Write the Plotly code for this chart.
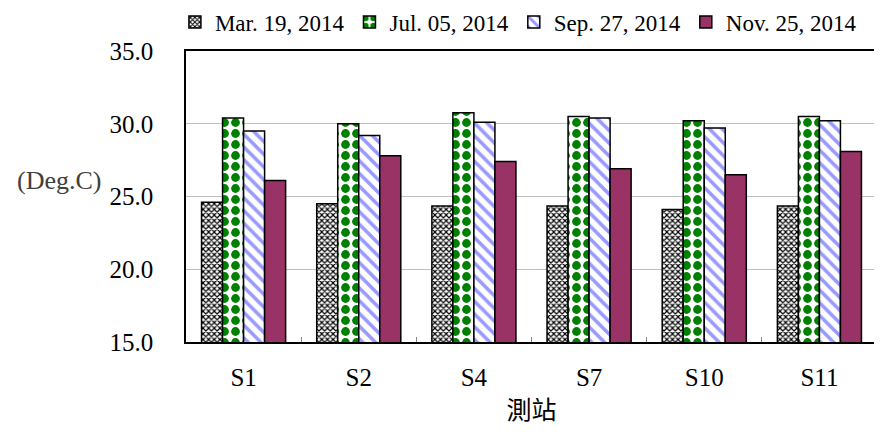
import plotly.graph_objects as go

stations = ["S1", "S2", "S4", "S7", "S10", "S11"]
mar_19 = [24.6, 24.5, 24.35, 24.35, 24.1, 24.35]
jul_05 = [30.4, 30.0, 30.75, 30.5, 30.2, 30.5]
sep_27 = [29.5, 29.2, 30.1, 30.4, 29.7, 30.2]
nov_25 = [26.1, 27.8, 27.4, 26.9, 26.5, 28.1]
series_names = ["Mar. 19, 2014", "Jul. 05, 2014", "Sep. 27, 2014", "Nov. 25, 2014"]
y_ticks = [15.0, 20.0, 25.0, 30.0, 35.0]

SERIF = "Liberation Serif, Times New Roman, serif"

fig = go.Figure()
fig.add_trace(go.Bar(
    x=stations, y=mar_19, name=series_names[0],
    marker=dict(color="white", line=dict(color="black", width=1.5),
                pattern=dict(shape="x", fgcolor="black", bgcolor="white", size=4,
                             solidity=0.5, fgopacity=1)),
))
fig.add_trace(go.Bar(
    x=stations, y=jul_05, name=series_names[1],
    marker=dict(color="white", line=dict(color="black", width=1.5),
                pattern=dict(shape=".", fgcolor="#008000", bgcolor="white", size=11,
                             solidity=0.5, fgopacity=1)),
))
fig.add_trace(go.Bar(
    x=stations, y=sep_27, name=series_names[2],
    marker=dict(color="white", line=dict(color="black", width=1.5),
                pattern=dict(shape="\\", fgcolor="#9999ff", bgcolor="white", size=9,
                             solidity=0.4, fgopacity=1)),
))
fig.add_trace(go.Bar(
    x=stations, y=nov_25, name=series_names[3],
    marker=dict(color="#993366", line=dict(color="black", width=1.5)),
))

fig.update_layout(
    width=874, height=427,
    margin=dict(l=178, r=5, t=43, b=93, autoexpand=False),
    paper_bgcolor="white", plot_bgcolor="white",
    barmode="group", bargap=0.27, bargroupgap=0,
    font=dict(family=SERIF, size=24, color="black"),
    legend=dict(orientation="h", xref="container", x=0.584, xanchor="center",
                yref="container", y=0.967, yanchor="middle",
                font=dict(family=SERIF, size=23, color="black"),
                itemwidth=30, tracegroupgap=0, bgcolor="rgba(0,0,0,0)"),
    showlegend=True,
)
fig.update_xaxes(
    type="category", showline=True, linecolor="black", linewidth=1.5, mirror=True,
    ticks="inside", tickson="boundaries", ticklen=5, tickcolor="#888",
    tickfont=dict(family=SERIF, size=25), ticklabelstandoff=12,
    title=dict(text="測站", font=dict(family="Noto Sans CJK TC", size=25), standoff=12),
)
fig.update_yaxes(
    range=[15, 35], tickvals=y_ticks, ticktext=[f"{v:.1f}" for v in y_ticks],
    showline=True, linecolor="black", linewidth=1.5, mirror=True,
    showgrid=True, gridcolor="#c0c0c0", gridwidth=1.2,
    tickfont=dict(family=SERIF, size=25), ticks="", ticklabelstandoff=26,
)
fig.add_annotation(
    text="(Deg.C)", xref="paper", yref="y", x=-0.12, y=26.1, xanchor="right", yanchor="middle",
    showarrow=False, font=dict(family=SERIF, size=26, color="#404040"),
)
fig.write_html("out.html")
